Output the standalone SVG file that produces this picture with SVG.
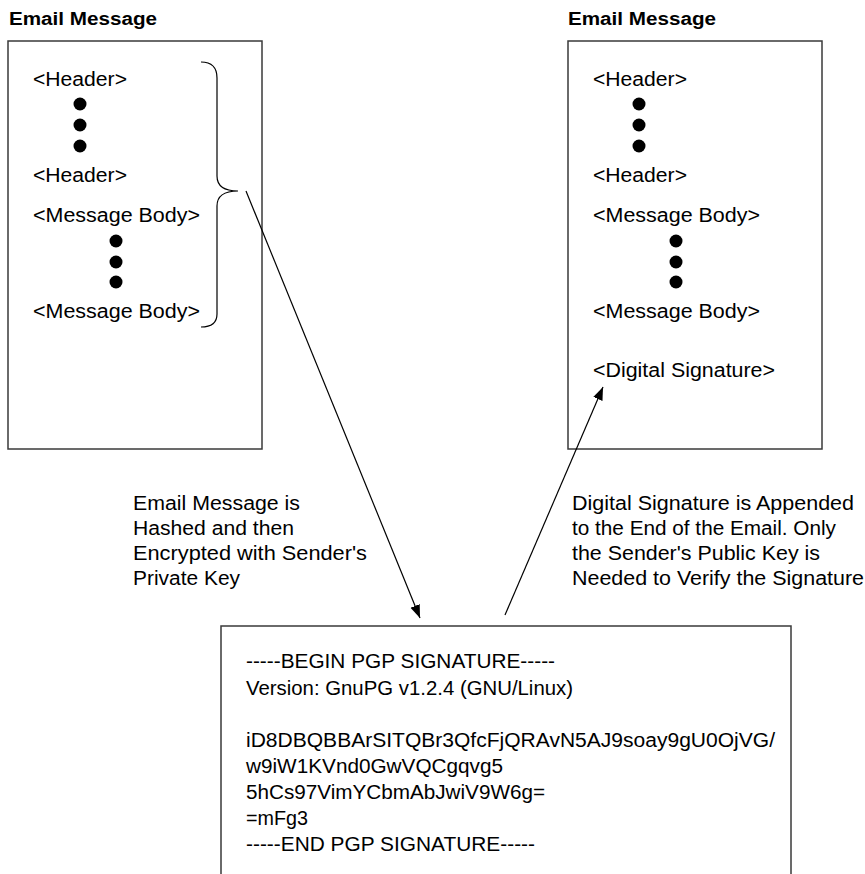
<svg xmlns="http://www.w3.org/2000/svg" width="865" height="874" viewBox="0 0 865 874">
<style>
text{font-family:"Liberation Sans",Arial,sans-serif;font-size:20px;fill:#000}
.title{font-weight:bold;font-size:18px}
.box{fill:#fff;stroke:#3a3a3a;stroke-width:1.5}
.dot{fill:#000}
.conn{stroke:#000;stroke-width:1.2;fill:none}
</style>
<defs>
<marker id="arr" markerUnits="userSpaceOnUse" markerWidth="14" markerHeight="12" refX="13" refY="5" orient="auto">
<path d="M0,0 L13,5 L0,10 Z" fill="#000"/>
</marker>
</defs>
<rect width="865" height="874" fill="#fff"/>

<g id="left-email">
<text class="title" x="9" y="25" textLength="148" lengthAdjust="spacingAndGlyphs">Email Message</text>
<rect class="box" x="8" y="41" width="254" height="408"/>
<text x="33" y="86" textLength="94" lengthAdjust="spacingAndGlyphs">&lt;Header&gt;</text>
<circle class="dot" cx="80" cy="104" r="6.5"/>
<circle class="dot" cx="80" cy="125" r="6.5"/>
<circle class="dot" cx="80" cy="146" r="6.5"/>
<text x="33" y="182" textLength="94" lengthAdjust="spacingAndGlyphs">&lt;Header&gt;</text>
<text x="33" y="222" textLength="167" lengthAdjust="spacingAndGlyphs">&lt;Message Body&gt;</text>
<circle class="dot" cx="116" cy="241" r="6.5"/>
<circle class="dot" cx="116" cy="262" r="6.5"/>
<circle class="dot" cx="116" cy="282" r="6.5"/>
<text x="33" y="318" textLength="167" lengthAdjust="spacingAndGlyphs">&lt;Message Body&gt;</text>
<path class="conn" d="M201,62 C211,62 217,66 217,78 L217,176 C217,186 224,191 238,191 C224,191 217,196 217,206 L217,314 C217,323 211,327 201,327"/>
</g>

<g id="right-email">
<text class="title" x="568" y="25" textLength="148" lengthAdjust="spacingAndGlyphs">Email Message</text>
<rect class="box" x="568" y="41" width="254" height="408"/>
<text x="593" y="86" textLength="94" lengthAdjust="spacingAndGlyphs">&lt;Header&gt;</text>
<circle class="dot" cx="639" cy="104" r="6.5"/>
<circle class="dot" cx="639" cy="125" r="6.5"/>
<circle class="dot" cx="639" cy="146" r="6.5"/>
<text x="593" y="182" textLength="94" lengthAdjust="spacingAndGlyphs">&lt;Header&gt;</text>
<text x="593" y="222" textLength="167" lengthAdjust="spacingAndGlyphs">&lt;Message Body&gt;</text>
<circle class="dot" cx="676" cy="241" r="6.5"/>
<circle class="dot" cx="676" cy="262" r="6.5"/>
<circle class="dot" cx="676" cy="282" r="6.5"/>
<text x="593" y="318" textLength="167" lengthAdjust="spacingAndGlyphs">&lt;Message Body&gt;</text>
<text x="593" y="377" textLength="182" lengthAdjust="spacingAndGlyphs">&lt;Digital Signature&gt;</text>
</g>

<g id="signature-box">
<rect class="box" x="221" y="626" width="570" height="260"/>
<text x="246" y="668" textLength="309" lengthAdjust="spacingAndGlyphs">-----BEGIN PGP SIGNATURE-----</text>
<text x="246" y="695" textLength="327" lengthAdjust="spacingAndGlyphs">Version: GnuPG v1.2.4 (GNU/Linux)</text>
<text x="246" y="747" textLength="529" lengthAdjust="spacingAndGlyphs">iD8DBQBBArSITQBr3QfcFjQRAvN5AJ9soay9gU0OjVG/</text>
<text x="246" y="773" textLength="257" lengthAdjust="spacingAndGlyphs">w9iW1KVnd0GwVQCgqvg5</text>
<text x="246" y="799" textLength="299" lengthAdjust="spacingAndGlyphs">5hCs97VimYCbmAbJwiV9W6g=</text>
<text x="246" y="825" textLength="62" lengthAdjust="spacingAndGlyphs">=mFg3</text>
<text x="246" y="851" textLength="289" lengthAdjust="spacingAndGlyphs">-----END PGP SIGNATURE-----</text>
</g>

<g id="label-hash">
<text x="133" y="510" textLength="167" lengthAdjust="spacingAndGlyphs">Email Message is</text>
<text x="133" y="535" textLength="161" lengthAdjust="spacingAndGlyphs">Hashed and then</text>
<text x="133" y="560" textLength="234" lengthAdjust="spacingAndGlyphs">Encrypted with Sender's</text>
<text x="133" y="585" textLength="107" lengthAdjust="spacingAndGlyphs">Private Key</text>
</g>

<g id="label-append">
<text x="572" y="510" textLength="282" lengthAdjust="spacingAndGlyphs">Digital Signature is Appended</text>
<text x="572" y="535" textLength="264" lengthAdjust="spacingAndGlyphs">to the End of the Email. Only</text>
<text x="572" y="560" textLength="248" lengthAdjust="spacingAndGlyphs">the Sender's Public Key is</text>
<text x="572" y="585" textLength="292" lengthAdjust="spacingAndGlyphs">Needed to Verify the Signature</text>
</g>

<g id="connectors">
<line class="conn" x1="246" y1="191" x2="420" y2="618" marker-end="url(#arr)"/>
<line class="conn" x1="505" y1="615" x2="603" y2="387" marker-end="url(#arr)"/>
</g>
</svg>
